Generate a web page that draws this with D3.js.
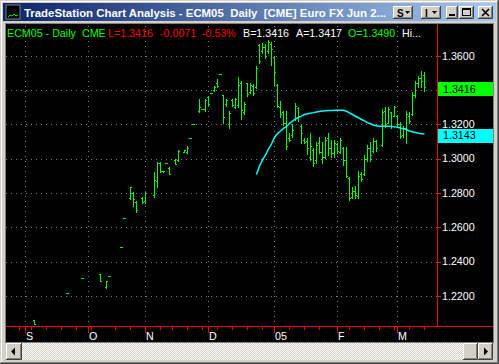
<!DOCTYPE html>
<html>
<head lang="en">
    <meta charset="UTF-8">
    <title>ECM05 Daily</title>
    <script type="text/javascript" src="https://cdnjs.cloudflare.com/ajax/libs/d3/7.8.5/d3.min.js"></script>
    <style>
        body { margin: 0; background: #d4d0c8; }
        svg { display: block; font-family: "Liberation Sans", Arial, sans-serif; }
        text { white-space: pre; }
    </style>
</head>
<body>
<svg id="mainSvg"></svg>
<script>
    // trading-day index (0 = first day of September) and OHLC
    var barDay = [3, 14, 19, 25, 27, 28, 32, 33, 35, 36, 37, 39, 40, 43, 44, 45, 46, 47, 48, 50,
        51, 53, 54, 55, 56, 58, 59, 60, 61, 62, 63, 64, 65, 66, 67, 68, 69, 70, 71, 72,
        73, 74, 75, 76, 77, 78, 79, 80, 81, 82, 83, 84, 85, 86, 87, 88, 89, 90, 91, 92,
        93, 94, 95, 96, 97, 98, 99, 100, 101, 102, 103, 104, 105, 106, 107, 108, 109, 110, 111, 112,
        113, 114, 115, 116, 117, 119, 120, 121, 122, 123, 124, 125, 126, 127, 128, 129, 130, 131, 132, 133];
    var barOpen = [1.2058, 1.2215, 1.2302, 1.2327, 1.2250, 1.2314, 1.2483, 1.2652, 1.2770, 1.2800, 1.2745, 1.2772, 1.2750, 1.2790, 1.2870, 1.2975, 1.2928, 1.2973, 1.2945, 1.2990,
        1.2990, 1.3040, 1.3040, 1.3118, 1.3200, 1.3280, 1.3289, 1.3290, 1.3360, 1.3384, 1.3398, 1.3440, 1.3492, 1.3368, 1.3320, 1.3200, 1.3342, 1.3300, 1.3310, 1.3440,
        1.3270, 1.3440, 1.3390, 1.3425, 1.3420, 1.3660, 1.3630, 1.3650, 1.3625, 1.3670, 1.3590, 1.3430, 1.3300, 1.3270, 1.3210, 1.3120, 1.3135, 1.3230, 1.3295, 1.3190,
        1.3110, 1.3100, 1.3010, 1.3050, 1.2990, 1.3090, 1.3040, 1.3010, 1.3120, 1.3060, 1.3030, 1.3085, 1.3040, 1.3060, 1.2990, 1.2885, 1.2775, 1.2810, 1.2780, 1.2910,
        1.2910, 1.3000, 1.3060, 1.3045, 1.3100, 1.3080, 1.3280, 1.3210, 1.3270, 1.3250, 1.3250, 1.3200, 1.3135, 1.3180, 1.3250, 1.3260, 1.3370, 1.3440, 1.3470, 1.3490];
    var barHigh = [1.2058, 1.2215, 1.2302, 1.2327, 1.2286, 1.2314, 1.2483, 1.2652, 1.2833, 1.2807, 1.2751, 1.2774, 1.2803, 1.2924, 1.2978, 1.2978, 1.2930, 1.2973, 1.2949, 1.2998,
        1.3048, 1.3050, 1.3073, 1.3118, 1.3200, 1.3348, 1.3289, 1.3348, 1.3365, 1.3384, 1.3423, 1.3464, 1.3492, 1.3371, 1.3346, 1.3278, 1.3346, 1.3355, 1.3476, 1.3454,
        1.3330, 1.3443, 1.3439, 1.3433, 1.3540, 1.3668, 1.3672, 1.3668, 1.3690, 1.3682, 1.3600, 1.3437, 1.3336, 1.3279, 1.3278, 1.3148, 1.3202, 1.3322, 1.3299, 1.3196,
        1.3118, 1.3118, 1.3148, 1.3060, 1.3099, 1.3128, 1.3099, 1.3128, 1.3151, 1.3108, 1.3108, 1.3093, 1.3118, 1.3069, 1.3066, 1.2891, 1.2836, 1.2840, 1.2929, 1.2924,
        1.3021, 1.3079, 1.3099, 1.3118, 1.3108, 1.3289, 1.3303, 1.3303, 1.3274, 1.3307, 1.3254, 1.3215, 1.3190, 1.3279, 1.3274, 1.3387, 1.3452, 1.3482, 1.3511, 1.3507];
    var barLow = [1.2036, 1.2215, 1.2302, 1.2284, 1.2247, 1.2314, 1.2483, 1.2652, 1.2766, 1.2725, 1.2690, 1.2739, 1.2743, 1.2778, 1.2833, 1.2924, 1.2922, 1.2973, 1.2908, 1.2967,
        1.2984, 1.3038, 1.3034, 1.3118, 1.3200, 1.3273, 1.3289, 1.3279, 1.3313, 1.3384, 1.3394, 1.3419, 1.3492, 1.3209, 1.3309, 1.3180, 1.3309, 1.3293, 1.3303, 1.3233,
        1.3260, 1.3365, 1.3381, 1.3371, 1.3413, 1.3556, 1.3617, 1.3588, 1.3617, 1.3546, 1.3429, 1.3299, 1.3244, 1.3196, 1.3054, 1.3104, 1.3128, 1.3225, 1.3221, 1.3093,
        1.3089, 1.3027, 1.2992, 1.2957, 1.2976, 1.3031, 1.2976, 1.3002, 1.3021, 1.3011, 1.3011, 1.3034, 1.3034, 1.2963, 1.2894, 1.2759, 1.2768, 1.2768, 1.2768, 1.2871,
        1.2904, 1.2988, 1.2988, 1.3040, 1.3046, 1.3075, 1.3186, 1.3206, 1.3177, 1.3248, 1.3196, 1.3118, 1.3128, 1.3093, 1.3206, 1.3254, 1.3361, 1.3416, 1.3419, 1.3396];
    var barClose = [1.2036, 1.2215, 1.2302, 1.2287, 1.2286, 1.2314, 1.2483, 1.2652, 1.2833, 1.2763, 1.2700, 1.2745, 1.2798, 1.2875, 1.2975, 1.2930, 1.2925, 1.2973, 1.2910, 1.2970,
        1.3046, 1.3048, 1.3062, 1.3118, 1.3200, 1.3299, 1.3289, 1.3340, 1.3320, 1.3384, 1.3420, 1.3422, 1.3492, 1.3240, 1.3340, 1.3265, 1.3315, 1.3350, 1.3431, 1.3283,
        1.3320, 1.3375, 1.3430, 1.3380, 1.3527, 1.3570, 1.3650, 1.3600, 1.3680, 1.3637, 1.3503, 1.3305, 1.3260, 1.3205, 1.3075, 1.3108, 1.3165, 1.3305, 1.3250, 1.3150,
        1.3095, 1.3060, 1.3073, 1.2975, 1.3080, 1.3040, 1.3010, 1.3110, 1.3060, 1.3030, 1.3090, 1.3045, 1.3110, 1.2990, 1.2896, 1.2770, 1.2810, 1.2790, 1.2900, 1.2880,
        1.3000, 1.3060, 1.3020, 1.3105, 1.3060, 1.3270, 1.3200, 1.3290, 1.3190, 1.3300, 1.3200, 1.3130, 1.3180, 1.3260, 1.3220, 1.3370, 1.3440, 1.3470, 1.3450, 1.3416];

    // moving average, one value per day from day 77 to day 133
    var maFirstDay = 77;
    var maValues = [1.2908, 1.2957, 1.2992, 1.3021, 1.3056, 1.3085, 1.3123, 1.3146, 1.3161, 1.3176,
        1.3187, 1.3205, 1.3219, 1.3231, 1.3240, 1.3248, 1.3257, 1.3262, 1.3265, 1.3268,
        1.3272, 1.3275, 1.3278, 1.3279, 1.3280, 1.3281, 1.3282, 1.3282, 1.3282, 1.3282,
        1.3276, 1.3267, 1.3257, 1.3247, 1.3238, 1.3228, 1.3220, 1.3210, 1.3203, 1.3196,
        1.3191, 1.3188, 1.3188, 1.3188, 1.3188, 1.3187, 1.3185, 1.3183, 1.3178, 1.3174,
        1.3168, 1.3161, 1.3156, 1.3152, 1.3148, 1.3145, 1.3143];

    var monthLabels = ["S", "O", "N", "D", "05", "F", "M"];
    var monthDays = [0, 21, 40, 61, 83, 104, 124];
    var weekDays = [-2, 2, 7, 12, 17, 22, 30, 35, 45, 49, 54, 59, 64, 69, 74, 79, 88, 93, 98, 108, 113, 118, 123, 128, 133];
    var priceTicks = [1.22, 1.24, 1.26, 1.28, 1.30, 1.32, 1.34, 1.36];
    var lastPrice = 1.3416;

    var headerParts = [
        {t: "ECM05 - Daily", c: "#00ff00", x: 7},
        {t: "CME", c: "#00ff00", x: 82},
        {t: "L=1.3416", c: "#ff0000", x: 108},
        {t: "-0.0071", c: "#ff0000", x: 160},
        {t: "-0.53%", c: "#ff0000", x: 202},
        {t: "B=1.3416", c: "#ffffff", x: 243},
        {t: "A=1.3417", c: "#ffffff", x: 296},
        {t: "O=1.3490", c: "#00ff00", x: 348},
        {t: "Hi...", c: "#ffffff", x: 402}
    ];

    var w = 499, h = 364;
    var svg = d3.select("#mainSvg").attr("width", w).attr("height", h);
    var defs = svg.append("defs");

    var grad = defs.append("linearGradient").attr("id", "titleGrad");
    grad.append("stop").attr("offset", "0%").attr("stop-color", "#0a246a");
    grad.append("stop").attr("offset", "100%").attr("stop-color", "#a6caf0");

    var pat = defs.append("pattern").attr("id", "dither")
            .attr("width", 2).attr("height", 2).attr("patternUnits", "userSpaceOnUse");
    pat.append("rect").attr("width", 2).attr("height", 2).attr("fill", "#d4d0c8");
    pat.append("rect").attr("width", 1).attr("height", 1).attr("fill", "#ffffff");
    pat.append("rect").attr("x", 1).attr("y", 1).attr("width", 1).attr("height", 1).attr("fill", "#ffffff");

    // window frame
    svg.append("rect").attr("width", w).attr("height", h).attr("fill", "#d4d0c8");
    svg.append("path").attr("d", "M0.5,363 V0.5 H498").attr("fill", "none").attr("stroke", "#d4d0c8");
    svg.append("path").attr("d", "M1.5,362 V1.5 H497").attr("fill", "none").attr("stroke", "#ffffff");
    svg.append("path").attr("d", "M497.5,1 V362.5 H1").attr("fill", "none").attr("stroke", "#808080");
    svg.append("path").attr("d", "M498.5,0 V363.5 H0").attr("fill", "none").attr("stroke", "#404040");

    // title bar
    svg.append("rect").attr("x", 3).attr("y", 3).attr("width", 493).attr("height", 18).attr("fill", "url(#titleGrad)");
    svg.append("rect").attr("x", 6).attr("y", 5).attr("width", 14).attr("height", 14).attr("fill", "#000")
            .attr("stroke", "#808080");
    svg.append("path").attr("d", "M8,17 L10,15 L12,16 L14,14 L16,16 L18,15").attr("fill", "none")
            .attr("stroke", "#00ff00").attr("stroke-width", 1);
    svg.append("text").attr("x", 24).attr("y", 16.5)
            .attr("font-size", 11.5).attr("font-weight", "bold").attr("fill", "#ffffff")
            .attr("textLength", 362).attr("lengthAdjust", "spacingAndGlyphs")
            .text("TradeStation Chart Analysis - ECM05  Daily  [CME] Euro FX Jun 2...");

    function button(x, y, bw, bh) {
        var g = svg.append("g");
        g.append("rect").attr("x", x).attr("y", y).attr("width", bw).attr("height", bh).attr("fill", "#d4d0c8");
        g.append("path").attr("d", "M" + (x + 0.5) + "," + (y + bh) + " V" + (y + 0.5) + " H" + (x + bw))
                .attr("fill", "none").attr("stroke", "#ffffff");
        g.append("path").attr("d", "M" + (x + bw - 1.5) + "," + (y + 1) + " V" + (y + bh - 1.5) + " H" + (x + 1))
                .attr("fill", "none").attr("stroke", "#808080");
        g.append("path").attr("d", "M" + (x + bw - 0.5) + "," + y + " V" + (y + bh - 0.5) + " H" + x)
                .attr("fill", "none").attr("stroke", "#404040");
        return g;
    }
    var bS = button(393, 6, 20, 13);
    bS.append("text").attr("x", 397).attr("y", 16.5).attr("font-size", 10).attr("font-weight", "bold").text("S");
    bS.append("path").attr("d", "M405,11 h5 l-2.5,3 z").attr("fill", "#000");
    var bI = button(421, 6, 20, 13);
    bI.append("text").attr("x", 425).attr("y", 16.5).attr("font-size", 10).attr("font-weight", "bold").text("I");
    bI.append("path").attr("d", "M432,11 h5 l-2.5,3 z").attr("fill", "#000");
    var bMin = button(446, 6, 12, 13);
    bMin.append("rect").attr("x", 449).attr("y", 14).attr("width", 6).attr("height", 2).attr("fill", "#000");
    var bMax = button(459, 6, 15, 13);
    bMax.append("rect").attr("x", 462.5).attr("y", 8.5).attr("width", 8).attr("height", 7)
            .attr("fill", "none").attr("stroke", "#000");
    bMax.append("rect").attr("x", 462).attr("y", 8).attr("width", 9).attr("height", 2).attr("fill", "#000");
    var bClose = button(478, 6, 15, 13);
    bClose.append("path").attr("d", "M482,9 L489,16 M489,9 L482,16").attr("stroke", "#000").attr("stroke-width", 1.6);

    // chart area
    svg.append("rect").attr("x", 5).attr("y", 23).attr("width", 489).attr("height", 320).attr("fill", "#808080");
    svg.append("rect").attr("x", 6).attr("y", 24).attr("width", 487).attr("height", 318).attr("fill", "#000000");

    var x = d3.scaleLinear().domain([0, 137]).range([25, 436]);
    var y = d3.scaleLinear().domain([1.20, 1.36]).range([330.1, 55.7]);
    var py = function (p) { return Math.round(y(p)); };

    // dotted grid
    svg.selectAll("line.hgrid").data(priceTicks).enter().append("line").attr("class", "hgrid")
            .attr("x1", 6).attr("x2", 437)
            .attr("y1", function (d) { return py(d) + 0.5; })
            .attr("y2", function (d) { return py(d) + 0.5; })
            .attr("stroke", "#808080").attr("stroke-dasharray", "1,4");
    svg.selectAll("line.vgrid").data(monthDays).enter().append("line").attr("class", "vgrid")
            .attr("x1", function (d) { return x(d) + 0.5; })
            .attr("x2", function (d) { return x(d) + 0.5; })
            .attr("y1", 26).attr("y2", 326)
            .attr("stroke", "#808080").attr("stroke-dasharray", "1,4");

    // OHLC bars
    var bars = barDay.map(function (d, i) {
        return {day: d, o: barOpen[i], h: barHigh[i], l: barLow[i], c: barClose[i]};
    });
    var gBars = svg.append("g").attr("fill", "#00ff00");
    gBars.selectAll("rect.hl").data(bars).enter().append("rect").attr("class", "hl")
            .attr("x", function (d) { return x(d.day); })
            .attr("y", function (d) { return py(d.h); })
            .attr("width", 1)
            .attr("height", function (d) { return py(d.l) - py(d.h) + 1; });
    gBars.selectAll("rect.op").data(bars).enter().append("rect").attr("class", "op")
            .attr("x", function (d) { return x(d.day) - 1; })
            .attr("y", function (d) { return py(d.o); })
            .attr("width", 1).attr("height", 1);
    gBars.selectAll("rect.cl").data(bars).enter().append("rect").attr("class", "cl")
            .attr("x", function (d) { return x(d.day) + 1; })
            .attr("y", function (d) { return py(d.c); })
            .attr("width", 1).attr("height", 1);

    // moving average
    var maLine = d3.line()
            .x(function (d, i) { return x(maFirstDay + i) + 0.5; })
            .y(function (d) { return y(d); });
    svg.append("path").datum(maValues).attr("d", maLine)
            .attr("fill", "none").attr("stroke", "#00ffff").attr("stroke-width", 1.5);

    // axes
    svg.append("line").attr("x1", 6).attr("x2", 493).attr("y1", 326.5).attr("y2", 326.5).attr("stroke", "#ff0000");
    svg.append("line").attr("x1", 437.5).attr("x2", 437.5).attr("y1", 24).attr("y2", 326).attr("stroke", "#ff0000");

    svg.selectAll("line.wk").data(weekDays).enter().append("line").attr("class", "wk")
            .attr("x1", function (d) { return x(d) + 0.5; })
            .attr("x2", function (d) { return x(d) + 0.5; })
            .attr("y1", 326).attr("y2", 330).attr("stroke", "#ff0000");
    svg.selectAll("line.mo").data(monthDays).enter().append("line").attr("class", "mo")
            .attr("x1", function (d) { return x(d) + 0.5; })
            .attr("x2", function (d) { return x(d) + 0.5; })
            .attr("y1", 326).attr("y2", 333).attr("stroke", "#ff0000");
    svg.selectAll("text.mo").data(monthLabels).enter().append("text").attr("class", "mo")
            .attr("x", function (d, i) { return x(monthDays[i]) + 1; })
            .attr("y", 339.5)
            .attr("font-size", 10.7).attr("fill", "#ffffff")
            .text(function (d) { return d; });

    svg.selectAll("line.pt").data(priceTicks).enter().append("line").attr("class", "pt")
            .attr("x1", 437).attr("x2", 441)
            .attr("y1", function (d) { return py(d) + 0.5; })
            .attr("y2", function (d) { return py(d) + 0.5; })
            .attr("stroke", "#ff0000");
    svg.selectAll("text.pt").data(priceTicks).enter().append("text").attr("class", "pt")
            .attr("x", 442)
            .attr("y", function (d) { return y(d) + 3.8; })
            .attr("font-size", 10.7).attr("fill", "#ffffff")
            .text(function (d) { return d3.format(".4f")(d); });

    // last value markers
    var markers = [
        {v: lastPrice, fill: "#00ff00"},
        {v: maValues[maValues.length - 1], fill: "#00ffff"}
    ];
    svg.selectAll("rect.mk").data(markers).enter().append("rect").attr("class", "mk")
            .attr("x", 438).attr("width", 55)
            .attr("y", function (d) { return py(d.v) - 5; })
            .attr("height", 14)
            .attr("fill", function (d) { return d.fill; });
    svg.selectAll("text.mk").data(markers).enter().append("text").attr("class", "mk")
            .attr("x", 443)
            .attr("y", function (d) { return y(d.v) + 5.4; })
            .attr("font-size", 10.7).attr("fill", "#000000")
            .text(function (d) { return d3.format(".4f")(d.v); });

    // header line
    svg.selectAll("text.hd").data(headerParts).enter().append("text").attr("class", "hd")
            .attr("x", function (d) { return d.x; })
            .attr("y", 37)
            .attr("font-size", 10.7)
            .attr("fill", function (d) { return d.c; })
            .text(function (d) { return d.t; });

    // scrollbar
    svg.append("rect").attr("x", 6).attr("y", 343).attr("width", 487).attr("height", 17).attr("fill", "url(#dither)");
    var sL = button(6, 343, 16, 17);
    sL.append("path").attr("d", "M11,351.5 l4,-4 v8 z").attr("fill", "#000");
    button(463, 343, 15, 17);
    var sR = button(478, 343, 15, 17);
    sR.append("path").attr("d", "M488,351.5 l-4,-4 v8 z").attr("fill", "#000");
</script>
</body>
</html>
